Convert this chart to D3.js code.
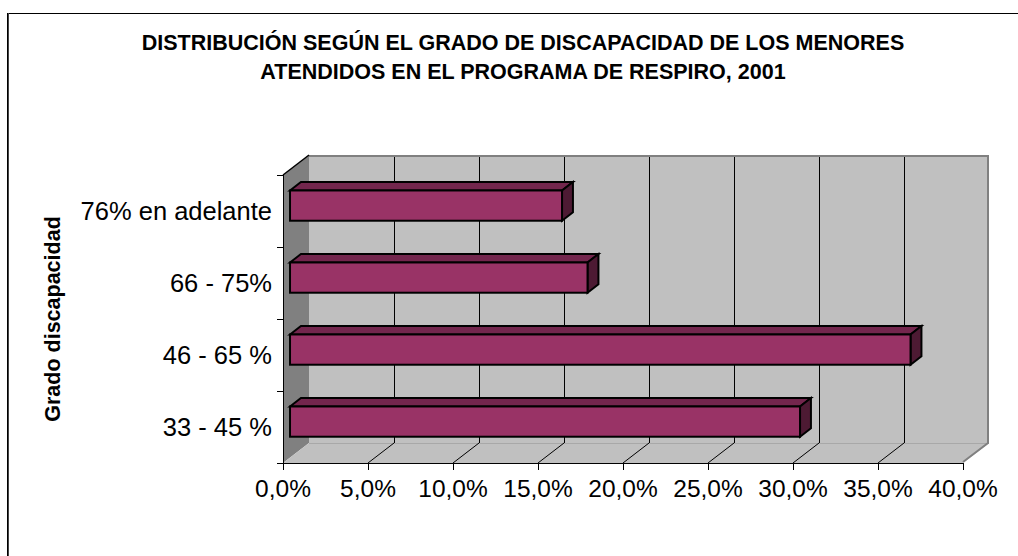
<!DOCTYPE html>
<meta charset="utf-8">
<script src="https://d3js.org/d3.v7.min.js"></script>
<style>
    body { margin: 0; background: white; }
    text { font-family: "Liberation Sans", Arial, sans-serif; }
</style>
<body>
<div id="chart"></div>
<script>

    // data
    var categories = ["33 - 45 %", "46 - 65 %", "66 - 75%", "76% en adelante"];
    var values = [30.0, 36.5, 17.5, 16.0];
    var tickValues = [0, 5, 10, 15, 20, 25, 30, 35, 40];
    var titleLines = ["DISTRIBUCIÓN SEGÚN EL GRADO DE DISCAPACIDAD DE LOS MENORES",
        "ATENDIDOS EN EL PROGRAMA DE RESPIRO, 2001"];
    var yTitle = "Grado discapacidad";

    var width = 1018, height = 556;

    // depth of the 3d box (front plane -> back wall)
    var DX = 26, DY = -20;
    // bars sit between these depth fractions
    var F0 = 0.27, F1 = 0.69;

    var svg = d3.select("#chart").append("svg")
        .attr("width", width)
        .attr("height", height)

    // outer frame
    svg.append("rect")
        .attr("x", 7.5).attr("y", 13.5)
        .attr("width", 1030).attr("height", 560)
        .attr("fill", "none").attr("stroke", "#000")
    svg.append("line")
        .attr("x1", 8.5).attr("x2", 8.5).attr("y1", 13).attr("y2", 556)
        .attr("stroke", "#444").attr("stroke-width", 1)

    var x = d3.scaleLinear().domain([0, 40]).range([283, 963])
    var y = d3.scaleBand().domain(categories).range([463, 175])

    var x0 = x(0), x1 = x(40), yTop = y.range()[1], yBot = y.range()[0];

    // left wall
    svg.append("polygon")
        .attr("points", [[x0, yTop], [x0 + DX, yTop + DY], [x0 + DX, yBot + DY], [x0, yBot]].join(" "))
        .attr("fill", "#808080")
    // back wall
    svg.append("rect")
        .attr("x", x0 + DX).attr("y", yTop + DY)
        .attr("width", x1 - x0).attr("height", yBot - yTop)
        .attr("fill", "#c0c0c0")
    // floor
    svg.append("polygon")
        .attr("points", [[x0, yBot], [x0 + DX, yBot + DY], [x1 + DX, yBot + DY], [x1, yBot]].join(" "))
        .attr("fill", "#c0c0c0")
    svg.append("line")
        .attr("x1", x0 + DX).attr("x2", x1 + DX)
        .attr("y1", yBot + DY + 0.5).attr("y2", yBot + DY + 0.5)
        .attr("stroke", "#a8a8a8")

    // gridlines on back wall and floor
    var inner = tickValues.filter(function (d) { return d > 0 && d < 40 })
    svg.selectAll(".grid").data(inner).enter().append("line")
        .attr("x1", function (d) { return Math.round(x(d) + DX) + 0.5 })
        .attr("x2", function (d) { return Math.round(x(d) + DX) + 0.5 })
        .attr("y1", yTop + DY).attr("y2", yBot + DY)
        .attr("stroke", "#000")
    svg.selectAll(".fgrid").data(inner).enter().append("line")
        .attr("x1", function (d) { return x(d) }).attr("y1", yBot)
        .attr("x2", function (d) { return x(d) + DX }).attr("y2", yBot + DY)
        .attr("stroke", "#000")

    // back wall border (top, right) and floor right edge
    svg.append("polyline")
        .attr("points", [[x0 + DX, yTop + DY + 1], [x1 + DX - 1, yTop + DY + 1], [x1 + DX - 1, yBot + DY], [x1, yBot - 1]].join(" "))
        .attr("fill", "none").attr("stroke", "#808080").attr("stroke-width", 2)
    // top edge of left wall
    svg.append("line")
        .attr("x1", x0).attr("y1", yTop).attr("x2", x0 + DX).attr("y2", yTop + DY)
        .attr("stroke", "#000").attr("stroke-width", 1.5)

    // axes
    var xAxis = svg.append("g").attr("transform", "translate(0," + yBot + ")")
    xAxis.append("line").attr("x1", x0).attr("x2", x1).attr("y1", 0.5).attr("y2", 0.5).attr("stroke", "#000")
    xAxis.selectAll(".tick").data(tickValues).enter().append("line")
        .attr("x1", function (d) { return Math.round(x(d)) + 0.5 })
        .attr("x2", function (d) { return Math.round(x(d)) + 0.5 })
        .attr("y1", 0).attr("y2", 7).attr("stroke", "#000")
    var fmt = d3.formatLocale({ decimal: ",", thousands: ".", grouping: [3], currency: ["", ""] }).format(".1f")
    xAxis.selectAll(".lbl").data(tickValues).enter().append("text")
        .attr("x", function (d) { return x(d) })
        .attr("y", 34)
        .attr("text-anchor", "middle")
        .style("font-size", "24.5px")
        .text(function (d) { return fmt(d) + "%" })

    var yAxis = svg.append("g")
    yAxis.append("line").attr("x1", x0 + 0.5).attr("x2", x0 + 0.5).attr("y1", yTop).attr("y2", yBot).attr("stroke", "#000")
    var yTicks = categories.map(function (c) { return y(c) }).concat([yBot])
    yAxis.selectAll(".tick").data(yTicks).enter().append("line")
        .attr("x1", x0 - 6).attr("x2", x0)
        .attr("y1", function (d) { return Math.round(d) + 0.5 })
        .attr("y2", function (d) { return Math.round(d) + 0.5 })
        .attr("stroke", "#000")
    yAxis.selectAll(".lbl").data(categories).enter().append("text")
        .attr("x", 272)
        .attr("y", function (d) { return y(d) + y.bandwidth() / 2 })
        .attr("dy", "0.36em")
        .attr("text-anchor", "end")
        .style("font-size", "25.5px")
        .text(function (d) { return d })

    // bars
    var barH = y.bandwidth() * 0.42;
    var fdx = DX * F0, fdy = DY * F0;
    var bdx = DX * (F1 - F0), bdy = DY * (F1 - F0);
    var data = categories.map(function (c, i) { return { cat: c, value: values[i] } })

    var bars = svg.selectAll(".bar").data(data.slice().reverse()).enter().append("g")
        .attr("stroke", "#000").attr("stroke-width", 2).attr("stroke-linejoin", "miter")
    function geo(d) {
        var cy = y(d.cat) + y.bandwidth() / 2 + fdy;
        return { l: x(0) + fdx, r: x(d.value) + fdx, t: cy - barH / 2, b: cy + barH / 2 }
    }
    bars.append("polygon")
        .attr("points", function (d) {
            var g = geo(d);
            return [[g.l, g.t], [g.l + bdx, g.t + bdy], [g.r + bdx, g.t + bdy], [g.r, g.t]].join(" ")
        })
        .attr("fill", "#73264d")
    bars.append("polygon")
        .attr("points", function (d) {
            var g = geo(d);
            return [[g.r, g.t], [g.r + bdx, g.t + bdy], [g.r + bdx, g.b + bdy], [g.r, g.b]].join(" ")
        })
        .attr("fill", "#4d1a33")
    bars.append("rect")
        .attr("x", function (d) { return geo(d).l })
        .attr("y", function (d) { return geo(d).t })
        .attr("width", function (d) { var g = geo(d); return g.r - g.l })
        .attr("height", barH)
        .attr("fill", "#993366")

    // titles
    svg.selectAll(".title").data(titleLines).enter().append("text")
        .attr("x", 523)
        .attr("y", function (d, i) { return 50 + i * 29 })
        .attr("text-anchor", "middle")
        .style("font-size", "21.5px").style("font-weight", "bold")
        .text(function (d) { return d })

    svg.append("text")
        .attr("transform", "translate(60,319) rotate(-90)")
        .attr("text-anchor", "middle")
        .style("font-size", "21.5px").style("font-weight", "bold")
        .text(yTitle)

</script>
</body>
